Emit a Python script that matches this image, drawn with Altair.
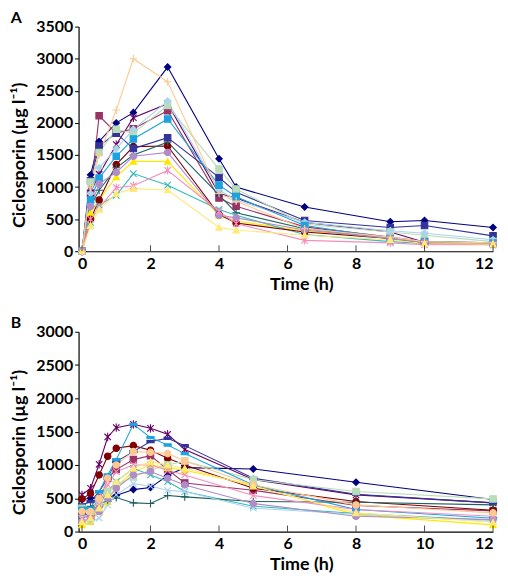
import altair as alt
import pandas as pd

# ---------------- Panel A data ----------------
series_A = [f"A{i}" for i in range(1, 16)]
colors_A = ["#000080", "#993366", "#FFE800", "#33BBBB", "#660066", "#800000", "#1F6666",
            "#333399", "#B8DDB8", "#A8D4EC", "#1AA3E0", "#B08CC8", "#F58CBE", "#FFC890", "#FFE97A"]
X = "M-1,-1L1,1M-1,1L1,-1"
AST = "M-1,-1L1,1M-1,1L1,-1M0,-1.3L0,1.3"
PLUS = "M-1.2,0L1.2,0M0,-1.2L0,1.2"
DASH = "M-1.1,-0.35L1.1,-0.35L1.1,0.35L-1.1,0.35Z"
shapes_A = ["diamond", "square", "triangle-up", X, AST, "circle", PLUS,
            "square", "square", "diamond", "square", "circle", AST, PLUS, "triangle-up"]

times_A = [0, 0.25, 0.5, 1, 1.5, 2.5, 4, 4.5, 6.5, 9, 10, 12]
values_A = {
    "A1":  [0, 1190, 1710, 2000, 2160, 2870, 1440, 1000, 690, 460, 480, 370],
    "A2":  [0, 900, 2110, 1840, 1910, 2190, 830, 700, 380, 220, 150, 130],
    "A3":  [0, 600, 800, 1160, 1400, 1400, 560, 470, 320, 200, 150, 120],
    "A4":  [0, 450, 720, 870, 1210, 1030, 650, 560, 260, 150, 120, 100],
    "A5":  [0, 910, 1200, 1660, 2080, 2300, 900, 830, 450, 300, 140, 120],
    "A6":  [0, 500, 800, 1350, 1630, 1640, 570, 440, 300, 200, 120, 110],
    "A7":  [0, 700, 950, 1300, 1500, 1700, 880, 600, 350, 200, 150, 120],
    "A8":  [0, 1100, 1640, 1840, 1600, 1770, 1150, 920, 480, 370, 400, 240],
    "A9":  [0, 1080, 1540, 1900, 1840, 2270, 1280, 970, 420, 300, 250, 150],
    "A10": [0, 900, 1300, 1600, 1900, 2340, 950, 800, 450, 320, 280, 180],
    "A11": [0, 800, 1140, 1480, 1750, 2060, 1030, 850, 400, 200, 150, 130],
    "A12": [0, 700, 1050, 1230, 1480, 1540, 560, 520, 330, 200, 140, 110],
    "A13": [0, 500, 680, 990, 1020, 1260, 620, 430, 170, 130, 100, 100],
    "A14": [0, 1000, 1500, 2200, 3000, 2640, 900, 780, 350, 220, 150, 130],
    "A15": [0, 400, 650, 900, 975, 955, 370, 330, 250, 180, 120, 110],
}

# ---------------- Panel B data ----------------
series_B = [f"B{i}" for i in range(1, 16)]
colors_B = ["#000080", "#993366", "#FFE800", "#33BBBB", "#660066", "#800000", "#1F5F5F",
            "#333399", "#B8DDB8", "#A8D4EC", "#1AA3E0", "#B08CC8", "#F58CBE", "#FFC890", "#FFE97A"]
shapes_B = ["diamond", "square", "triangle-up", X, AST, "circle", PLUS,
            DASH, "square", X, DASH, "circle", X, "circle", "triangle-up"]

times_B = [0, 0.25, 0.5, 0.75, 1, 1.5, 2, 2.5, 3, 5, 8, 12]
values_B = {
    "B1":  [480, 500, 510, 520, 540, 630, 660, 840, 960, 940, 740, 480],
    "B2":  [300, 220, 450, 800, 930, 1080, 1140, 930, 730, 620, 390, 310],
    "B3":  [100, 150, 300, 450, 670, 900, 1000, 960, 920, 700, 250, 100],
    "B4":  [250, 200, 400, 600, 750, 950, 850, 750, 600, 380, 270, 170],
    "B5":  [550, 650, 1010, 1420, 1560, 1610, 1550, 1460, 1230, 780, 550, 430],
    "B6":  [490, 570, 850, 1130, 1250, 1290, 1220, 1100, 1000, 650, 450, 320],
    "B7":  [350, 380, 420, 450, 510, 430, 420, 540, 520, 450, 440, 400],
    "B8":  [400, 450, 600, 800, 1050, 1200, 1350, 1400, 1290, 800, 560, 430],
    "B9":  [350, 300, 450, 600, 700, 820, 920, 1000, 1060, 780, 600, 490],
    "B10": [200, 150, 200, 400, 550, 720, 680, 620, 600, 350, 260, 150],
    "B11": [350, 350, 600, 850, 1080, 1610, 1410, 1300, 1170, 700, 330, 200],
    "B12": [150, 200, 300, 500, 650, 850, 900, 800, 700, 420, 230, 180],
    "B13": [200, 250, 400, 700, 900, 1000, 1000, 920, 850, 540, 330, 230],
    "B14": [300, 300, 500, 800, 1000, 1200, 1190, 1170, 1060, 700, 400, 280],
    "B15": [150, 200, 350, 550, 750, 950, 1050, 1000, 950, 680, 280, 140],
}

x_ticks = [0, 2, 4, 6, 8, 10, 12]
y_ticks_A = [0, 500, 1000, 1500, 2000, 2500, 3000, 3500]
y_ticks_B = [0, 500, 1000, 1500, 2000, 2500, 3000]

FONT = "Lato"
YTITLE = "Ciclosporin (µg l⁻¹)"


def long_df(times, values):
    rows = []
    for s, vals in values.items():
        for t, v in zip(times, vals):
            rows.append({"s": s, "t": t, "v": v})
    return pd.DataFrame(rows)


def panel(df, series, colors, shapes, ymax, yticks, h, letter, title_y, title_offset):
    xs = alt.Scale(domain=[-0.1, 12], nice=False, zero=False)
    ys = alt.Scale(domain=[0, ymax], nice=False)
    xaxis = alt.Axis(values=x_ticks, title="Time (h)", ticks=False, labelPadding=4,
                     labelFlush=True, labelOverlap=False, format="d",
                     titleX=224, titlePadding=4)
    yaxis = alt.Axis(values=yticks, title=YTITLE, tickSize=4, labelPadding=2,
                     labelOverlap=False, format="d", titleY=title_y, titlePadding=7)
    x = alt.X("t:Q", scale=xs, axis=xaxis)
    y = alt.Y("v:Q", scale=ys, axis=yaxis)
    cscale = alt.Scale(domain=series, range=colors)
    base = alt.Chart(df)
    lines = base.mark_line(strokeWidth=1.1).encode(
        x=x, y=y,
        color=alt.Color("s:N", scale=cscale, legend=None),
        detail="s:N", order="t:Q")
    pts = base.mark_point(filled=False, opacity=1, size=42, strokeWidth=1.1, fillOpacity=1).encode(
        x=x, y=y,
        color=alt.Color("s:N", scale=cscale, legend=None),
        fill=alt.Fill("s:N", scale=cscale, legend=None),
        shape=alt.Shape("s:N", scale=alt.Scale(domain=series, range=shapes), legend=None))
    tick_df = pd.DataFrame({"t": x_ticks})
    ticks = alt.Chart(tick_df).mark_tick(orient="vertical", color="black", thickness=1, size=6).encode(
        x=alt.X("t:Q", scale=xs, axis=xaxis),
        y=alt.Y(datum=0, type="quantitative", scale=ys, axis=yaxis),
        yOffset=alt.value(-3))
    return alt.layer(lines, pts, ticks).properties(
        width=417, height=h,
        title=alt.TitleParams(letter, anchor="start", frame="bounds", font=FONT,
                              fontSize=16, fontWeight="bold", color="black", offset=title_offset))


dfA = long_df(times_A, values_A)
dfB = long_df(times_B, values_B)

pA = panel(dfA, series_A, colors_A, shapes_A, 3500, y_ticks_A, 226, "A", 129, -7)
pB = panel(dfB, series_B, colors_B, shapes_B, 3000, y_ticks_B, 201, "B", 111, -7)

chart = alt.vconcat(pA, pB, spacing=22).resolve_scale(color="independent", fill="independent",
                                                      shape="independent").properties(
    padding={"left": 2, "top": 0, "right": 0, "bottom": 0}
).configure_axis(
    labelFont=FONT, labelFontSize=16, labelFontWeight="bold", labelColor="black",
    titleFont=FONT, titleFontSize=18, titleFontWeight="bold", titleColor="black",
    grid=False, domainColor="black", tickColor="black", domainWidth=1.2
).configure_view(stroke=None)

chart.save("out.html", embed_options={"renderer": "svg", "actions": False})
